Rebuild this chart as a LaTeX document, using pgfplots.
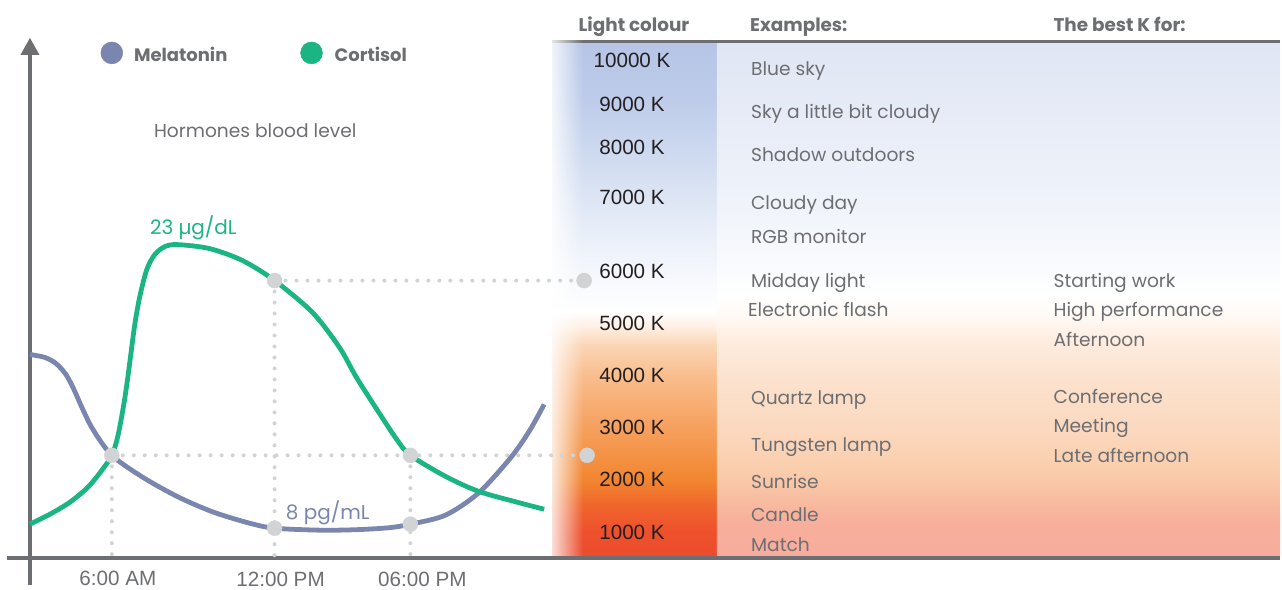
\documentclass[border=0pt]{standalone}
\usepackage{fontspec}
\setmainfont{Poppins}
\newfontfamily\arial{Liberation Sans}
\usepackage{pgfplots}
\pgfplotsset{compat=1.18}
\usetikzlibrary{fadings}
\tikzfading[name=fadeR, left color=transparent!0, right color=transparent!100]
\definecolor{grayT}{HTML}{6D6E71}
\definecolor{cgreen}{HTML}{1BB584}
\definecolor{cpurple}{HTML}{7A86AD}
\definecolor{mgray}{HTML}{D1D3D4}
\definecolor{ktext}{HTML}{231F20}
% left column stops
\definecolor{L1}{RGB}{182,197,230}
\definecolor{L2}{RGB}{190,204,234}
\definecolor{L3}{RGB}{205,217,239}
\definecolor{L4}{RGB}{222,230,245}
\definecolor{L5}{RGB}{238,242,250}
\definecolor{L6}{RGB}{250,251,254}
\definecolor{L7}{RGB}{255,255,255}
\definecolor{L8}{RGB}{254,238,224}
\definecolor{L9}{RGB}{251,214,182}
\definecolor{L10}{RGB}{249,190,142}
\definecolor{L11}{RGB}{246,160,94}
\definecolor{L12}{RGB}{242,134,48}
\definecolor{L13}{RGB}{240,102,44}
\definecolor{L14}{RGB}{238,80,44}
\definecolor{L15}{RGB}{236,76,44}
% right area stops
\definecolor{R1}{RGB}{224,230,244}
\definecolor{R2}{RGB}{231,236,247}
\definecolor{R3}{RGB}{239,243,250}
\definecolor{R4}{RGB}{248,250,253}
\definecolor{R5}{RGB}{255,255,255}
\definecolor{R6}{RGB}{255,250,246}
\definecolor{R7}{RGB}{254,237,224}
\definecolor{R8}{RGB}{252,226,206}
\definecolor{R9}{RGB}{251,216,190}
\definecolor{R10}{RGB}{250,206,172}
\definecolor{R11}{RGB}{248,192,162}
\definecolor{R12}{RGB}{247,176,156}
\definecolor{R13}{RGB}{247,172,156}
\newcommand\band[6]{\fill[top color=#5, bottom color=#6] (axis cs:#1,#3) rectangle (axis cs:#2,#4);}
\tikzset{
  ex/.style={anchor=base west, inner sep=0pt, text=grayT, font=\fontsize{14pt}{16pt}\selectfont},
  kl/.style={anchor=base, inner sep=0pt, text=ktext, font=\arial\fontsize{15.5pt}{17pt}\selectfont},
  hd/.style={anchor=base west, inner sep=0pt, text=grayT, font=\bfseries\fontsize{13.8pt}{15pt}\selectfont},
  guide/.style={mgray, line width=3pt, line cap=round, dash pattern=on 0pt off 8.25pt},
}
\begin{document}
\begin{tikzpicture}
\begin{axis}[scale only axis, width=961.5pt, height=442.5pt,
  xmin=0, xmax=1282, ymin=0, ymax=590, y dir=reverse,
  axis lines=none, ticks=none, clip=false]
\path (axis cs:0,0) rectangle (axis cs:1282,590);
% left colour column
\band{553}{718}{44}{100.6}{L1}{L2}
\band{553}{718}{100}{150.6}{L2}{L3}
\band{553}{718}{150}{200.6}{L3}{L4}
\band{553}{718}{200}{250.6}{L4}{L5}
\band{553}{718}{250}{290.6}{L5}{L6}
\band{553}{718}{290}{312.6}{L6}{L7}
\band{553}{718}{312}{328.6}{L7}{L8}
\band{553}{718}{328}{345.6}{L8}{L9}
\band{553}{718}{345}{375.6}{L9}{L10}
\band{553}{718}{375}{428.6}{L10}{L11}
\band{553}{718}{428}{480.6}{L11}{L12}
\band{553}{718}{480}{505.6}{L12}{L13}
\band{553}{718}{505}{532.6}{L13}{L14}
\band{553}{718}{532}{557}{L14}{L15}
% right area
\band{718}{1282}{44}{120.6}{R1}{R2}
\band{718}{1282}{120}{200.6}{R2}{R3}
\band{718}{1282}{200}{260.6}{R3}{R4}
\band{718}{1282}{260}{295.6}{R4}{R5}
\band{718}{1282}{295}{315.6}{R5}{R6}
\band{718}{1282}{315}{340.6}{R6}{R7}
\band{718}{1282}{340}{380.6}{R7}{R8}
\band{718}{1282}{380}{430.6}{R8}{R9}
\band{718}{1282}{430}{470.6}{R9}{R10}
\band{718}{1282}{470}{495.6}{R10}{R11}
\band{718}{1282}{495}{520.6}{R11}{R12}
\band{718}{1282}{520}{557}{R12}{R13}
% top rule
\draw[grayT, line width=2.2pt] (axis cs:553,42) -- (axis cs:1282,42);
% white fade on the left edge of the panel
\fill[white, path fading=fadeR] (axis cs:546,38) rectangle (axis cs:584,557);
% axes
\draw[grayT, line width=3pt] (axis cs:7,559) -- (axis cs:1282,559);
\draw[grayT, line width=2.8pt] (axis cs:30,586) -- (axis cs:30,52);
\fill[grayT] (axis cs:30,38) -- (axis cs:39.5,55) -- (axis cs:20.5,55) -- cycle;
% guides
\addplot[guide] coordinates {(275,281) (585,281)};
\addplot[guide] coordinates {(112,456) (588,456)};
\addplot[guide] coordinates {(112,456) (112,560)};
\addplot[guide] coordinates {(275,281) (275,560)};
\addplot[guide] coordinates {(411,456) (411,560)};
% curves
\addplot[cpurple, line width=3.6pt, smooth] coordinates {
(30,355) (45,358) (56,364) (66,375) (74,390) (82,408) (93,430) (112,456) (143,478)
(179,498) (214,513) (250,524) (275,529) (321,531) (357,530.5) (390,528.5) (411,525)
(446,516) (479,494) (511,459) (530,432) (545,405)};
\addplot[cgreen, line width=3.6pt, smooth] coordinates {
(30,525) (50,515) (70,503) (88,488) (102,471) (112,456) (118,437) (124,405) (128,378)
(131,355) (135,325) (140,297) (147,270) (155,255) (165,247) (178,245) (210,249)
(243,261) (275,281) (313,313) (340,348) (357,378) (380,414) (398,441) (411,456)
(446,477) (479,492) (518,503) (545,510)};
% markers
\addplot[only marks, mark=*, mark size=5.6pt, mark options={fill=mgray, draw=mgray}] coordinates {
(112,456) (275,281) (275,529) (411,456) (411,525) (585,281) (588,456)};
% legend
\addplot[only marks, mark=*, mark size=8.2pt, mark options={fill=cpurple, draw=cpurple}] coordinates {(112,53)};
\addplot[only marks, mark=*, mark size=8.2pt, mark options={fill=cgreen, draw=cgreen}] coordinates {(312,53)};
\node[hd, font=\bfseries\fontsize{13.5pt}{15pt}\selectfont] at (axis cs:134,62) {Melatonin};
\node[hd, font=\bfseries\fontsize{13.5pt}{15pt}\selectfont] at (axis cs:335,62) {Cortisol};
\node[ex] at (axis cs:154,138) {Hormones blood level};
\node[ex, text=cgreen, font=\fontsize{15pt}{17pt}\selectfont] at (axis cs:150,235) {23 µg/dL};
\node[ex, text=cpurple, font=\fontsize{15pt}{17pt}\selectfont] at (axis cs:286,520) {8 pg/mL};
% x labels
\node[kl, text=grayT] at (axis cs:118,586) {6:00 AM};
\node[kl, text=grayT] at (axis cs:281,587) {12:00 PM};
\node[kl, text=grayT] at (axis cs:423,587) {06:00 PM};
% headers
\node[hd, anchor=base] at (axis cs:635,32) {Light colour};
\node[hd] at (axis cs:751,32) {Examples:};
\node[hd] at (axis cs:1055,32) {The best K for:};
% K labels
\node[kl] at (axis cs:633,68) {10000 K};
\node[kl] at (axis cs:633,112) {9000 K};
\node[kl] at (axis cs:633,155) {8000 K};
\node[kl] at (axis cs:633,205) {7000 K};
\node[kl] at (axis cs:633,279) {6000 K};
\node[kl] at (axis cs:633,331) {5000 K};
\node[kl] at (axis cs:633,383) {4000 K};
\node[kl] at (axis cs:633,435) {3000 K};
\node[kl] at (axis cs:633,487) {2000 K};
\node[kl] at (axis cs:633,540) {1000 K};
% examples
\node[ex] at (axis cs:752,76) {Blue sky};
\node[ex] at (axis cs:752,119) {Sky a little bit cloudy};
\node[ex] at (axis cs:752,162) {Shadow outdoors};
\node[ex] at (axis cs:752,210) {Cloudy day};
\node[ex] at (axis cs:752,244) {RGB monitor};
\node[ex] at (axis cs:752,288) {Midday light};
\node[ex] at (axis cs:749,317) {Electronic flash};
\node[ex] at (axis cs:752,405) {Quartz lamp};
\node[ex] at (axis cs:752,452) {Tungsten lamp};
\node[ex] at (axis cs:752,489) {Sunrise};
\node[ex] at (axis cs:752,522) {Candle};
\node[ex] at (axis cs:752,552) {Match};
% best K for
\node[ex] at (axis cs:1055,288) {Starting work};
\node[ex] at (axis cs:1055,317) {High performance};
\node[ex] at (axis cs:1055,347) {Afternoon};
\node[ex] at (axis cs:1055,404) {Conference};
\node[ex] at (axis cs:1055,433) {Meeting};
\node[ex] at (axis cs:1055,463) {Late afternoon};
\end{axis}
\end{tikzpicture}
\end{document}
